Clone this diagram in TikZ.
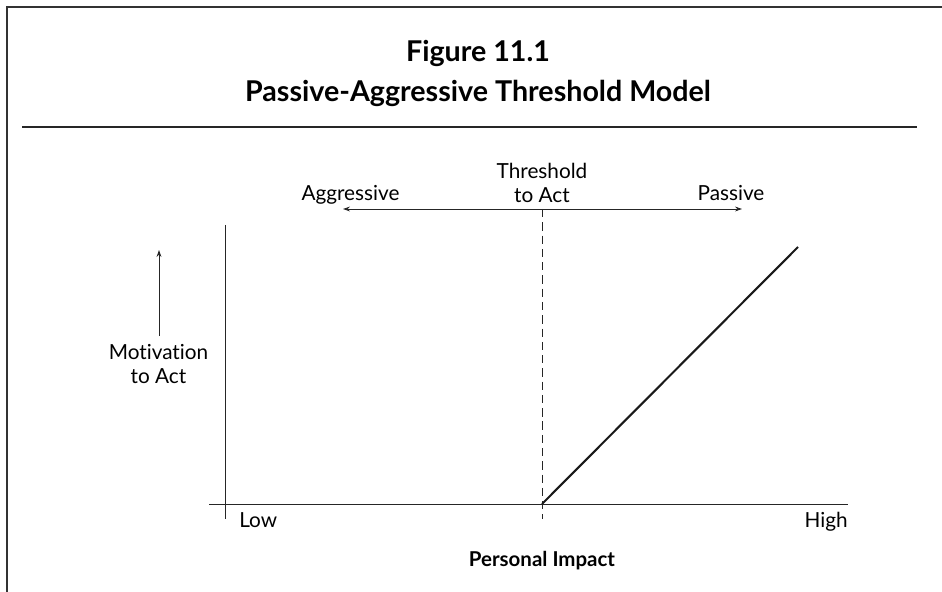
\documentclass[tikz,border=0pt]{standalone}
\usepackage{fontspec}
\setmainfont{Lato}[Ligatures=NoCommon]
\usetikzlibrary{arrows.meta}

\begin{document}
\begin{tikzpicture}[x=0.0254cm, y=-0.0254cm,
    >={Stealth[length=5pt, width=3.5pt]},
    lbl/.style={inner sep=0pt, align=center, font=\fontsize{15}{17}\selectfont},
    ttl/.style={inner sep=0pt, font=\fontsize{20.7}{24}\selectfont\bfseries},
    thin/.style={line width=0.7pt, draw=black!85}]
        \useasboundingbox (0,0) rectangle (942,592);
        \draw[line width=1.6pt, black!80] (7,592) -- (7,7) -- (942,7);

        \node[ttl, anchor=base] (Fig) at (478,62) {Figure 11.1};
        \node[ttl, anchor=base] (Title) at (478,102) {Passive-Aggressive Threshold Model};
        \draw[line width=1pt, black!85] (22,127) -- (917,127);

        \node[lbl, anchor=base] (Agg) at (350.5,200) {Aggressive};
        \node[lbl, anchor=base] (Pas) at (731,200) {Passive};
        \node[lbl] (Thr) at (542,183) {Threshold\\to Act};
        \node[lbl] (Mot) at (158.5,364) {Motivation\\to Act};
        \node[lbl, anchor=base west] (Low) at (239,527) {Low};
        \node[lbl, anchor=base east] (High) at (848,527) {High};
        \node[lbl, anchor=base, font=\fontsize{14.8}{17}\selectfont\bfseries] (PI) at (542,566) {Personal Impact};

        \coordinate (A1) at (343,209);
        \coordinate (A2) at (742,209);
        \coordinate (T1) at (542,209);
        \coordinate (T2) at (542,519);
        \coordinate (Y1) at (225,225);
        \coordinate (Y2) at (225,519);
        \coordinate (X1) at (209,504);
        \coordinate (X2) at (848,504);
        \coordinate (L1) at (542,504);
        \coordinate (L2) at (798,247);
        \coordinate (M1) at (159,336);
        \coordinate (M2) at (159,250);

        \draw[thin, <->] (A1) -- (A2);
        \draw[thin, dash pattern=on 6pt off 3.6pt] (T1) -- (T2);
        \draw[thin] (Y1) -- (Y2);
        \draw[thin] (X1) -- (X2);
        \draw[line width=1.5pt, black!90] (L1) -- (L2);
        \draw[thin, ->] (M1) -- (M2);
\end{tikzpicture}
\end{document}
